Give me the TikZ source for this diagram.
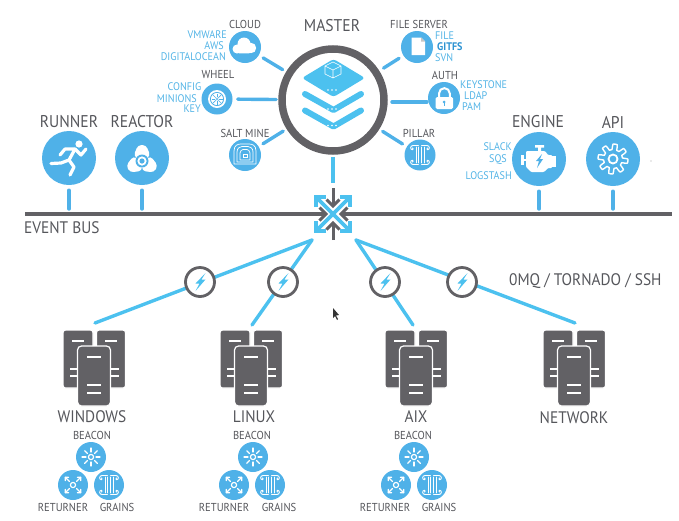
\documentclass[tikz,border=0pt]{standalone}
\usepackage{fontspec}
\setmainfont[FakeStretch=0.92]{PT Sans}
\definecolor{cblue}{HTML}{4FB1E8}
\definecolor{ccyan}{HTML}{4CC1EF}
\definecolor{cgrey}{HTML}{626165}
\definecolor{ctext}{HTML}{55565B}
\definecolor{cblab}{HTML}{53B4E6}
\definecolor{cdark}{HTML}{2E93D2}
\tikzset{
  disc/.style={circle,fill=cblue,inner sep=0pt,minimum size=#1},
  stub/.style={draw=cblue,line width=3.4pt,line cap=round},
  fan/.style={draw=ccyan,line width=3.4pt,line cap=round},
  busline/.style={draw=cgrey,line width=3.8pt},
  switchc/.style={circle,draw=cgrey,line width=2.8pt,fill=white,inner sep=0pt,minimum size=29pt},
  big/.style={text=ctext,font=\fontsize{17}{17}\selectfont,inner sep=0pt},
  small/.style={text=ctext,font=\fontsize{11.5}{12}\selectfont,inner sep=0pt},
  mid/.style={text=ctext,font=\fontsize{16.7}{17}\selectfont,inner sep=0pt},
  bl/.style={text=cblab,font=\fontsize{11}{12}\selectfont,inner sep=0pt},
  wl/.style={draw=white,line width=#1,line cap=round,line join=round,fill=none},
  wl/.default=1pt,
  srv/.style={draw=white,line width=1.2pt,fill=cgrey,rounded corners=2.5pt},
  srvbar/.style={draw=white,line width=1.6pt},
}
\newcommand{\boltmark}[1]{\fill[ccyan,shift={(#1)}] (5.5,-9)--(-4.5,1.5)--(-0.5,1.5)--(-4.5,9)--(5.5,-2.5)--(1.5,-2.5)--cycle;}
\newcommand{\grainsicon}[1]{\begin{scope}[shift={(#1)}]
  \foreach \s in {-1,1}{
   \draw[wl=.9pt,xscale=\s] (1.6,-8)--(1.6,8);
   \draw[wl=.9pt,xscale=\s] (4,-8)--(4,8);
   \draw[wl=.9pt,xscale=\s] (1.6,-9.5)--(7,-9.5) .. controls (10,-9.5) and (10,-5.2) .. (7.6,-5.2) .. controls (6.6,-5.2) and (6.6,-7) .. (7.6,-7);
   \draw[wl=.9pt,xscale=\s] (1.6,9.5)--(7,9.5) .. controls (10,9.5) and (10,5.2) .. (7.6,5.2) .. controls (6.6,5.2) and (6.6,7) .. (7.6,7);
  }
\end{scope}}
\newcommand{\returnericon}[1]{\begin{scope}[shift={(#1)}]
  \draw[wl=1.2pt] (0,0) circle (2.6);
  \foreach \a in {45,135,225,315}{
   \begin{scope}[rotate=\a]
    \draw[wl=1.1pt] (5,0)--(11,0);
    \draw[wl=1.1pt] (8.5,-2.4)--(11,0)--(8.5,2.4);
   \end{scope}}
\end{scope}}
\newcommand{\beaconicon}[1]{\begin{scope}[shift={(#1)}]
  \draw[wl=1.2pt] (0,0) circle (2.6);
  \foreach \a in {0,45,...,315}{\draw[wl=1.1pt,rotate=\a] (5,0)--(9,0);}
\end{scope}}
\newcommand{\serverset}[2]{\begin{scope}[shift={(#1)}]
  \node[srv,minimum width=30pt,minimum height=58pt,inner sep=0pt] (#2L) at (-16,0) {};
  \node[srv,minimum width=29pt,minimum height=58pt,inner sep=0pt] (#2R) at (17,0) {};
  \foreach \x in {-16,17}{
   \draw[srvbar] (\x-6,-18)--(\x+6,-18);
   \draw[srvbar] (\x-8,10)--(\x+8,10);
   \draw[srvbar] (\x-8,17)--(\x+8,17);
  }
  \node[srv,minimum width=33pt,minimum height=60pt,inner sep=0pt,rounded corners=4pt] (#2F) at (0,17) {};
  \draw[srvbar] (-7,-2)--(7,-2);
  \draw[srvbar] (-7,26)--(7,26);
  \draw[srvbar] (-7,34)--(7,34);
\end{scope}}
\begin{document}
\begin{tikzpicture}[x=1pt,y=-1pt]
\useasboundingbox (0,0) rectangle (679,520);
% ---- coordinates
\coordinate (hub) at (333,214);
\coordinate (busL) at (25,214);
\coordinate (busR) at (672,214);
\coordinate (hubSW) at (312,240);
\coordinate (hubSE) at (356,240);
\coordinate (winTop) at (95,323);
\coordinate (linTop) at (252,325);
\coordinate (aixTop) at (413,325);
\coordinate (netTop) at (575,323);
\coordinate (authIn) at (427,102);
\coordinate (authOut) at (392,102);
\coordinate (hubN) at (333,183);
% ---- master
\node[circle,draw=cgrey,line width=7.5pt,fill=white,minimum size=102pt,inner sep=0pt] (master) at (333,100) {};
\begin{scope}[shift={(master)}]
 \foreach \d in {0,16.5}{
  \begin{scope}[shift={(0,\d)}]
  \draw[ccyan,line width=6pt,line join=round,line cap=round] (-28,-6)--(0.5,10)--(28,-6);
  \foreach \x in {-5,-1,3}{\fill[white] (\x,9) circle (.9);}
  \end{scope}
 }
 \fill[ccyan,rounded corners=3pt] (-31,-22)--(0.5,-41)--(32,-22)--(0.5,-3)--cycle;
 \foreach \x in {-5,-1,3}{\fill[white] (\x,-10) circle (.9);}
 \begin{scope}[shift={(0,-30)}]
  \draw[white,line width=.6pt,line join=round] (-8,-4)--(0,-8)--(8,-4)--(8,4)--(0,8)--(-8,4)--cycle (-8,-4)--(0,0)--(8,-4) (0,0)--(0,8);
 \end{scope}
\end{scope}
% ---- satellites
\node[disc=32pt] (cloud) at (245,47) {};
\node[disc=31pt] (wheel) at (217,99) {};
\node[disc=32pt] (saltmine) at (245,155) {};
\node[disc=32pt] (fileserver) at (417,47) {};
\node[disc=32pt] (auth) at (444,98) {};
\node[disc=31pt] (pillar) at (420,155) {};
\node[disc=54pt] (runner) at (69,158) {};
\node[disc=54pt] (reactor) at (142,158) {};
\node[disc=54pt] (engine) at (539,159) {};
\node[disc=54pt] (api) at (613,159) {};
% ---- stubs
\draw[stub,shorten <=5pt,shorten >=4pt] (cloud) -- (master);
\draw[stub,shorten <=5pt,shorten >=2pt] (wheel) -- (master);
\draw[stub,shorten <=5pt,shorten >=4pt] (saltmine) -- (master);
\draw[stub,shorten <=5pt,shorten >=5pt] (fileserver) -- (master);
\draw[stub] (authIn) -- (authOut);
\draw[stub,shorten <=5pt,shorten >=4pt] (pillar) -- (master);
\draw[draw=ccyan,line width=3.4pt,shorten <=2pt] (master) -- (hubN);
\foreach \n in {runner,reactor,engine,api}{
  \draw[stub,shorten <=5pt,shorten >=5pt] (\n) -- (\n |- hub);
}
% ---- bus + hub
\draw[busline] (busL) -- ([xshift=-8pt]hub);
\draw[busline] ([xshift=8pt]hub) -- (busR);
\begin{scope}[shift={(hub)}]
 \draw[ccyan,line width=3.8pt] (-16,-16)--(16,16) (16,-16)--(-16,16);
 \draw[ccyan,line width=3.8pt,line join=miter] (-17,-7)--(-17,-17)--(-7,-17) (7,-17)--(17,-17)--(17,-7) (17,7)--(17,17)--(7,17) (-7,17)--(-17,17)--(-17,7);
 \draw[cgrey,line width=3pt] (0,-26)--(0,-8) (0,26)--(0,9);
 \draw[cgrey,line width=3pt] (-6.5,-14.5)--(0,-8)--(6.5,-14.5) (-6.5,15.5)--(0,9)--(6.5,15.5);
 \draw[cgrey,line width=3pt] (-13.5,-6.5)--(-7,0)--(-13.5,6.5) (14.5,-6.5)--(8,0)--(14.5,6.5);
\end{scope}
% ---- fan
\draw[fan] (hubSW) -- (winTop);
\draw[fan] (hubSW) -- (linTop);
\draw[fan] (hubSE) -- (aixTop);
\draw[fan] (hubSE) -- (netTop);
\node[switchc] (swA) at (200,282) {};
\node[switchc] (swB) at (283,282) {};
\node[switchc] (swC) at (385,282) {};
\node[switchc] (swD) at (462,282) {};
\boltmark{swA}\boltmark{swB}\boltmark{swC}\boltmark{swD}
% ---- icons
% cloud
\begin{scope}[shift={(cloud)}]
 \fill[white] (-8,2) circle (4.5) (-1,-3) circle (6.5) (6,1) circle (5.2);
 \fill[white,rounded corners=2pt] (-8,0) rectangle (6,6.3);
\end{scope}
% wheel
\begin{scope}[shift={(wheel)}]
 \fill[white] (0,0) circle (9);
 \draw[cblue,line width=.8pt] (0,0) circle (6.6);
 \foreach \a in {0,45,...,315}{\draw[cblue,line width=.7pt,rotate=\a] (1.8,0)--(5.5,0);}
 \fill[cblue!70] (0,0) circle (1.6);
\end{scope}
% salt mine
\begin{scope}[shift={(saltmine)}]
 \draw[white,line width=.7pt,line join=round] (-11,9)--(-11,-4) .. controls (-11,-10) and (-7,-11) .. (-4,-11)--(4,-11) .. controls (7,-11) and (11,-10) .. (11,-4)--(11,9)--cycle;
 \draw[white,line width=.7pt,line join=round] (-8,7)--(-8,-3) .. controls (-8,-7) and (-5,-8.5) .. (-3,-8.5)--(3,-8.5) .. controls (5,-8.5) and (8,-7) .. (8,-3)--(8,7)--cycle;
 \draw[white,line width=.7pt,line join=round] (-5,5)--(-5,-2) .. controls (-5,-4) and (-3,-5.5) .. (-2,-5.5)--(2,-5.5) .. controls (3,-5.5) and (5,-4) .. (5,-2)--(5,5)--cycle;
 \draw[white,line width=.6pt] (-2,-1)--(2,-1)--(2,2)--(-2,2)--cycle;
\end{scope}
% file
\begin{scope}[shift={(fileserver)}]
 \fill[white] (-5.5,-9.5)--(4,-9.5)--(8,-5.5)--(8,8)--(-5.5,8)--cycle;
 \fill[gray!45] (4,-9.5)--(8,-5.5)--(4,-5.5)--cycle;
\end{scope}
% lock
\begin{scope}[shift={(auth)}]
 \fill[white,rounded corners=1.5pt] (-8.5,-1) rectangle (9,11);
 \draw[white,line width=2pt] (-5,-1)--(-5,-4.5) arc[start angle=180,end angle=360,radius=5.4]--(5.8,-1);
 \fill[cblue] (.2,4) circle (1.5);
 \draw[cblue,line width=1pt] (.2,4)--(.2,8);
\end{scope}
\grainsicon{pillar}
% runner
\begin{scope}[shift={(runner)}]
 \fill[white] (10,-14) circle (3.6);
 \draw[wl=3.2pt] (-9,-3)--(-4,-9)--(6,-9)--(0,2)--(-8,5)--(-18,5.5);
 \draw[wl=3.2pt] (6,-9)--(12,-3)--(17,-9);
 \draw[wl=3.2pt] (0,2)--(5,9)--(1,17);
\end{scope}
% reactor
\begin{scope}[shift={(reactor)}]
 \foreach \r in {0,120,240}{
  \fill[white,rotate around={\r:(0,3)},rounded corners=3.5pt] (-4,-13)--(4,-13)--(8.5,-2)--(0,3)--(-8.5,-2)--cycle;
 }
 \fill[cblue] (0,3) circle (6.5);
 \fill[white] (0,3) circle (4.6);
 \fill[cblue] (0,3) circle (2.6);
\end{scope}
% engine
\begin{scope}[shift={(engine)}]
 \fill[white] (-4,-14) rectangle (5,-11.5) (-1,-12) rectangle (2,-8);
 \fill[white,rounded corners=1pt] (-13,-8)--(6,-8)--(9,-4)--(13,-4)--(13,9)--(9,9)--(5,13)--(-8,13)--(-13,8)--cycle;
 \fill[white] (-18,-4) rectangle (-15.5,6);
 \fill[white] (-16,-.5) rectangle (-12,2);
 \fill[white] (13,-3) rectangle (17,7.5);
 \fill[cblue] (3,-5)--(-3,2)--(0,2)--(-2,9)--(4,0)--(1,0)--cycle;
\end{scope}
% api gear
\begin{scope}[shift={(api)}]
 \draw[white,line width=1.4pt,line join=round] plot[domain=0:360,samples=161,variable=\t] ({(12.2+2.8*min(1,max(-1,2.5*sin(8*\t+22.5))))*cos(\t)},{(12.2+2.8*min(1,max(-1,2.5*sin(8*\t+22.5))))*sin(\t)});
 \draw[white,line width=1.8pt] (0,0) circle (4.5);
\end{scope}
% ---- servers
\serverset{94,359}{win}
\serverset{251,359}{lin}
\serverset{416,359}{aix}
\serverset{574,359}{net}
% ---- minions' sub circles
\node[disc=30pt] (beaconA) at (91,457) {};
\node[disc=30pt] (returnerA) at (73,485) {};
\node[disc=30pt] (grainsA) at (109,485) {};
\node[disc=30pt] (beaconB) at (253,457) {};
\node[disc=30pt] (returnerB) at (234,485) {};
\node[disc=30pt] (grainsB) at (270,485) {};
\node[disc=30pt] (beaconC) at (414,457) {};
\node[disc=30pt] (returnerC) at (396,485) {};
\node[disc=30pt] (grainsC) at (432,485) {};
\foreach \k in {A,B,C}{\beaconicon{beacon\k}\returnericon{returner\k}\grainsicon{grains\k}}
% ---- labels
\node[big] (tMaster) at (332,26) {MASTER};
\node[big] (tRunner) at (69,122) {RUNNER};
\node[big] (tReactor) at (142,122) {REACTOR};
\node[big] (tEngine) at (538,122) {ENGINE};
\node[big] (tApi) at (613,122) {API};
\node[mid,anchor=west] (tBus) at (24,228) {EVENT BUS};
\node[mid,anchor=west] (tProto) at (509,281) {0MQ / TORNADO / SSH};
\node[mid] (tWin) at (92,417) {WINDOWS};
\node[mid] (tLin) at (254,417) {LINUX};
\node[mid] (tAix) at (416,417) {AIX};
\node[mid] (tNet) at (574,418) {NETWORK};
\node[small] (tCloud) at (245,24) {CLOUD};
\node[small] (tWheel) at (218,75) {WHEEL};
\node[small] (tSalt) at (245,133) {SALT MINE};
\node[small] (tFile) at (419,24) {FILE SERVER};
\node[small] (tAuth) at (445,75) {AUTH};
\node[small] (tPillar) at (419,133) {PILLAR};
\node[bl,anchor=east] (b1) at (227,35) {VMWARE};
\node[bl,anchor=east] (b2) at (224,46) {AWS};
\node[bl,anchor=east] (b3) at (226,57) {DIGITALOCEAN};
\node[bl,anchor=east] (b4) at (201.5,87) {CONFIG};
\node[bl,anchor=east] (b5) at (197,99) {MINIONS};
\node[bl,anchor=east] (b6) at (201,109) {KEY};
\node[bl,anchor=west] (b7) at (435,36) {FILE};
\node[bl,anchor=west,text=cdark,font=\fontsize{11}{12}\selectfont\bfseries] (b8) at (437,47) {GITFS};
\node[bl,anchor=west] (b9) at (435,58) {SVN};
\node[bl,anchor=west] (b10) at (460,85) {KEYSTONE};
\node[bl,anchor=west] (b11) at (464,96) {LDAP};
\node[bl,anchor=west] (b12) at (462,107) {PAM};
\node[bl,anchor=east] (b13) at (512,147) {SLACK};
\node[bl,anchor=east] (b14) at (507,160) {SQS};
\node[bl,anchor=east] (b15) at (512,176) {LOGSTASH};
\node[small] (s1) at (92,435) {BEACON};
\node[small] (s2) at (63,507) {RETURNER};
\node[small] (s3) at (117,507) {GRAINS};
\node[small] (s4) at (252,435) {BEACON};
\node[small] (s5) at (224,507) {RETURNER};
\node[small] (s6) at (279,507) {GRAINS};
\node[small] (s7) at (413,435) {BEACON};
\node[small] (s8) at (385,507) {RETURNER};
\node[small] (s9) at (439,507) {GRAINS};
% cursor
\fill[black!80] (333,308)--(333,318)--(335,316)--(337,320)--(338,319)--(336,315.5)--(339,315)--cycle;
\fill[gray!70] (651,161) circle (.6);
\end{tikzpicture}
\end{document}
